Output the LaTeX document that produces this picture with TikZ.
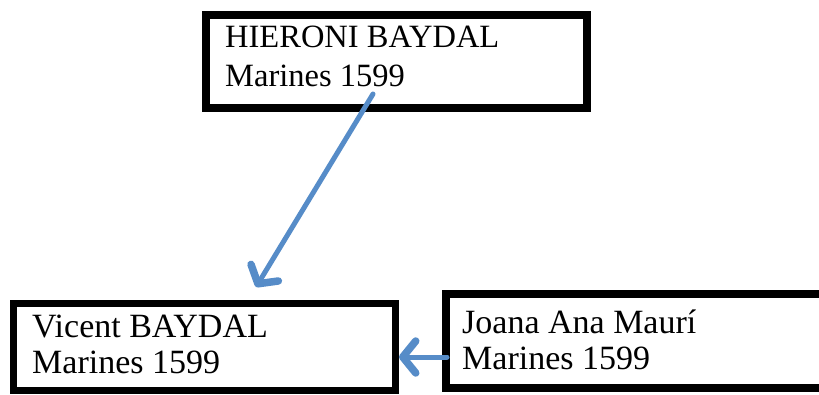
\documentclass[tikz,border=0pt]{standalone}
\usepackage{fontspec}
\setmainfont{Liberation Serif}
\usetikzlibrary{arrows.meta}
\definecolor{arrowblue}{RGB}{86,140,200}
\tikzset{
  box/.style={draw=black, line width=8.5pt, rectangle, inner sep=0pt},
  txt/.style={inner sep=0pt, align=left, font=\fontsize{32.5}{38.5}\selectfont, anchor=base west},
  bigtxt/.style={txt, font=\fontsize{34}{36}\selectfont},
  conn/.style={draw=arrowblue, line width=5pt, line cap=round, -{Straight Barb[length=13pt,width=32pt,round,line width=0pt 1.5]}}
}
\begin{document}
\begin{tikzpicture}[x=1pt,y=-1pt]
\useasboundingbox (0,0) rectangle (819,394);
\clip (0,0) rectangle (819,394);
\fill[white] (0,0) rectangle (819,394);
% boxes
\node[box, minimum width=381pt, minimum height=93pt] (top) at (396.5,61.5) {};
\node[box, line width=7.5pt, minimum width=382pt, minimum height=87pt] (left) at (204.5,347) {};
\node[box, minimum width=400pt, minimum height=94pt] (right) at (646,341) {};
% texts (anchored on the baseline of the last line)
\node[txt] (toptxt) at (225,86) {HIERONI BAYDAL\\Marines 1599};
\node[bigtxt] (lefttxt) at (32,373) {Vicent BAYDAL\\Marines 1599};
\node[bigtxt] (righttxt) at (462,369) {Joana Ana Maurí\\Marines 1599};
% connectors
\coordinate (a1) at (373,94);
\coordinate (a2) at (256,287);
\coordinate (b1) at (447,357);
\coordinate (b2) at (399,357);
\draw[conn] (a1) -- (a2);
\draw[conn] (b1) -- (b2);
\end{tikzpicture}
\end{document}
